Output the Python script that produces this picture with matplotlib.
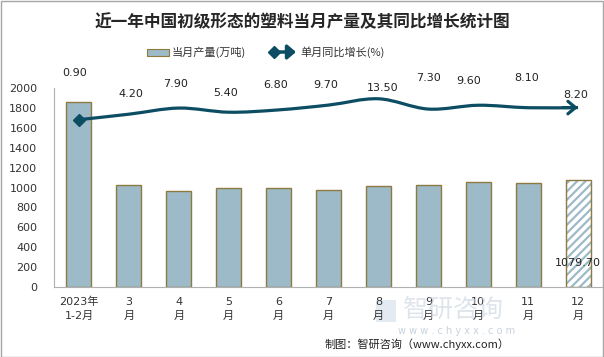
import matplotlib
matplotlib.use("Agg")
import matplotlib.pyplot as plt
import numpy as np
from matplotlib.path import Path
from matplotlib.patches import PathPatch, Rectangle, FancyArrowPatch
from matplotlib.lines import Line2D

plt.rcParams['font.family'] = ['DejaVu Sans', 'Noto Sans CJK SC']
plt.rcParams['hatch.linewidth'] = 1.6

# ---------------- data ----------------
categories = ["2023年\n1-2月", "3\n月", "4\n月", "5\n月", "6\n月", "7\n月",
              "8\n月", "9\n月", "10\n月", "11\n月", "12\n月"]
output = [1856, 1025, 965, 992, 992, 972, 1015, 1025, 1055, 1042, 1079.70]
growth = [0.90, 4.20, 7.90, 5.40, 6.80, 9.70, 13.50, 7.30, 9.60, 8.10, 8.20]
growth_labels = ["0.90", "4.20", "7.90", "5.40", "6.80", "9.70", "13.50",
                 "7.30", "9.60", "8.10", "8.20"]
yticks = [0, 200, 400, 600, 800, 1000, 1200, 1400, 1600, 1800, 2000]

# ---------------- style ----------------
label_dx = [-4, 2, -3, -3, -3, -3, 4, 0, -10, -2, -2]        # pixels
label_dy = [47, 20, 24, 19, 25, 20, 11, 31, 24, 30, 13]      # pixels
bar_fill = "#9DBAC8"
bar_edge = "#8C7A3E"
line_color = "#0D4D63"
text_color = "#333333"

W, H = 604, 357
fig = plt.figure(figsize=(W / 100, H / 100), dpi=100)
ax = fig.add_axes([54 / W, 1 - 287 / H, (603 - 54) / W, (287 - 88) / H])

x = np.arange(len(categories))
solid_x, solid_v = x[:-1], output[:-1]
ax.bar(solid_x, solid_v, width=0.5, color=bar_fill, edgecolor=bar_edge,
       linewidth=1.0, zorder=2)
# forecast-like last bar: hatched fill in light blue, golden outline
ax.bar(x[-1:], output[-1:], width=0.5, color="white", edgecolor=bar_fill,
       hatch="////", linewidth=0, zorder=2)
ax.bar(x[-1:], output[-1:], width=0.5, color="none", edgecolor=bar_edge,
       linewidth=1.0, zorder=3)

ax.set_xlim(-0.5, len(categories) - 0.5)
ax.set_ylim(0, 2000)
ax.set_yticks(yticks)
ax.set_yticklabels([str(v) for v in yticks], fontsize=8, color=text_color)
ax.set_xticks(x)
ax.set_xticklabels(categories, fontsize=8, color=text_color, linespacing=1.5)
ax.tick_params(axis='both', length=0)
ax.tick_params(axis='y', pad=12)
ax.tick_params(axis='x', pad=7)
for s in ["top", "right"]:
    ax.spines[s].set_visible(False)
ax.spines["left"].set_color("#B0B0B0")
ax.spines["bottom"].set_color("#B0B0B0")

# last bar label
ax.annotate(f"{output[-1]:.2f}", xy=(x[-1], 0), xytext=(0, 24),
            textcoords="offset pixels", ha="center", va="center",
            fontsize=8, color="#222222", zorder=5)

# ---------------- secondary axis: smooth line ----------------
ax2 = ax.twinx()
ax2.set_ylim(-100, 20)
ax2.axis("off")

P = np.column_stack([x.astype(float), np.array(growth)])
n = len(P)
verts = [tuple(P[0])]
codes = [Path.MOVETO]
for i in range(n - 1):
    p0 = P[i - 1] if i > 0 else P[i]
    p1 = P[i]
    p2 = P[i + 1]
    p3 = P[i + 2] if i + 2 < n else P[i + 1]
    c1 = p1 + (p2 - p0) / 6.0
    c2 = p2 - (p3 - p1) / 6.0
    verts += [tuple(c1), tuple(c2), tuple(p2)]
    codes += [Path.CURVE4] * 3
ax2.add_patch(PathPatch(Path(verts, codes), facecolor="none",
                        edgecolor=line_color, linewidth=2.3, zorder=4,
                        capstyle="butt"))
ax2.plot([x[0]], [growth[0]], marker="D", markersize=6, color=line_color,
         zorder=5)
ax2.annotate("", xy=(x[-1], growth[-1]), xytext=(x[-1] - 0.3, growth[-1]),
             arrowprops=dict(arrowstyle="->,head_length=0.55,head_width=0.45",
                             color=line_color, lw=2.3, shrinkA=0, shrinkB=0),
             zorder=5)

for xi, g, lab, dx, dy in zip(x, growth, growth_labels, label_dx, label_dy):
    ax2.annotate(lab, xy=(xi, g), xytext=(dx, dy), textcoords="offset pixels",
                 ha="center", va="center", fontsize=8, color="#222222",
                 zorder=6)

# ---------------- title & legend ----------------
fig.text(302 / W, 1 - 22 / H, "近一年中国初级形态的塑料当月产量及其同比增长统计图",
         ha="center", va="center", fontsize=12, fontweight="bold",
         color="#262626", family=["Noto Sans CJK SC"])

fig.add_artist(Rectangle((147 / W, 1 - 56 / H), 22 / W, 7 / H,
                         transform=fig.transFigure, facecolor=bar_fill,
                         edgecolor=bar_edge, linewidth=0.8))
fig.text(172 / W, 1 - 52 / H, "当月产量(万吨)", ha="left", va="center",
         fontsize=8, color=text_color, family=["Noto Sans CJK SC"])
fig.add_artist(FancyArrowPatch((272 / W, 1 - 52 / H), (296 / W, 1 - 52 / H),
                               transform=fig.transFigure,
                               arrowstyle="-|>,head_length=0.35,head_width=0.3",
                               color=line_color, lw=2.5, shrinkA=0, shrinkB=0,
                               mutation_scale=14))
fig.add_artist(Line2D([274 / W], [1 - 52 / H], marker="D", markersize=6,
                      color=line_color, transform=fig.transFigure))
fig.text(300 / W, 1 - 52 / H, "单月同比增长(%)", ha="left", va="center",
         fontsize=8, color=text_color, family=["Noto Sans CJK SC"])

# ---------------- watermark & footer ----------------
fig.text(403 / W, 1 - 310 / H, "智研咨询", ha="left", va="center", fontsize=18,
         color="#C9D3DE", alpha=0.6, family=["Noto Sans CJK SC"], zorder=0)
fig.add_artist(Rectangle((376 / W, 1 - 322 / H), 20 / W, 22 / H,
                         transform=fig.transFigure, facecolor="#D3DDE8",
                         edgecolor="none", alpha=0.6, zorder=0))
fig.text(457 / W, 1 - 331 / H, "w w w . c h y x x . c o m", ha="center",
         va="center", fontsize=7, color="#C9D3DE", zorder=0)
fig.text(510 / W, 1 - 344 / H, "制图：智研咨询（www.chyxx.com）", ha="right",
         va="center", fontsize=8, color="#222222",
         family=["Noto Sans CJK SC"])

fig.add_artist(Rectangle((0.5 / W, 0.5 / H), (W - 1.5) / W, (H - 1.5) / H,
                         transform=fig.transFigure, facecolor="none",
                         edgecolor="#A6A6A6", linewidth=1.0))

fig.savefig("out.png", dpi=100)
